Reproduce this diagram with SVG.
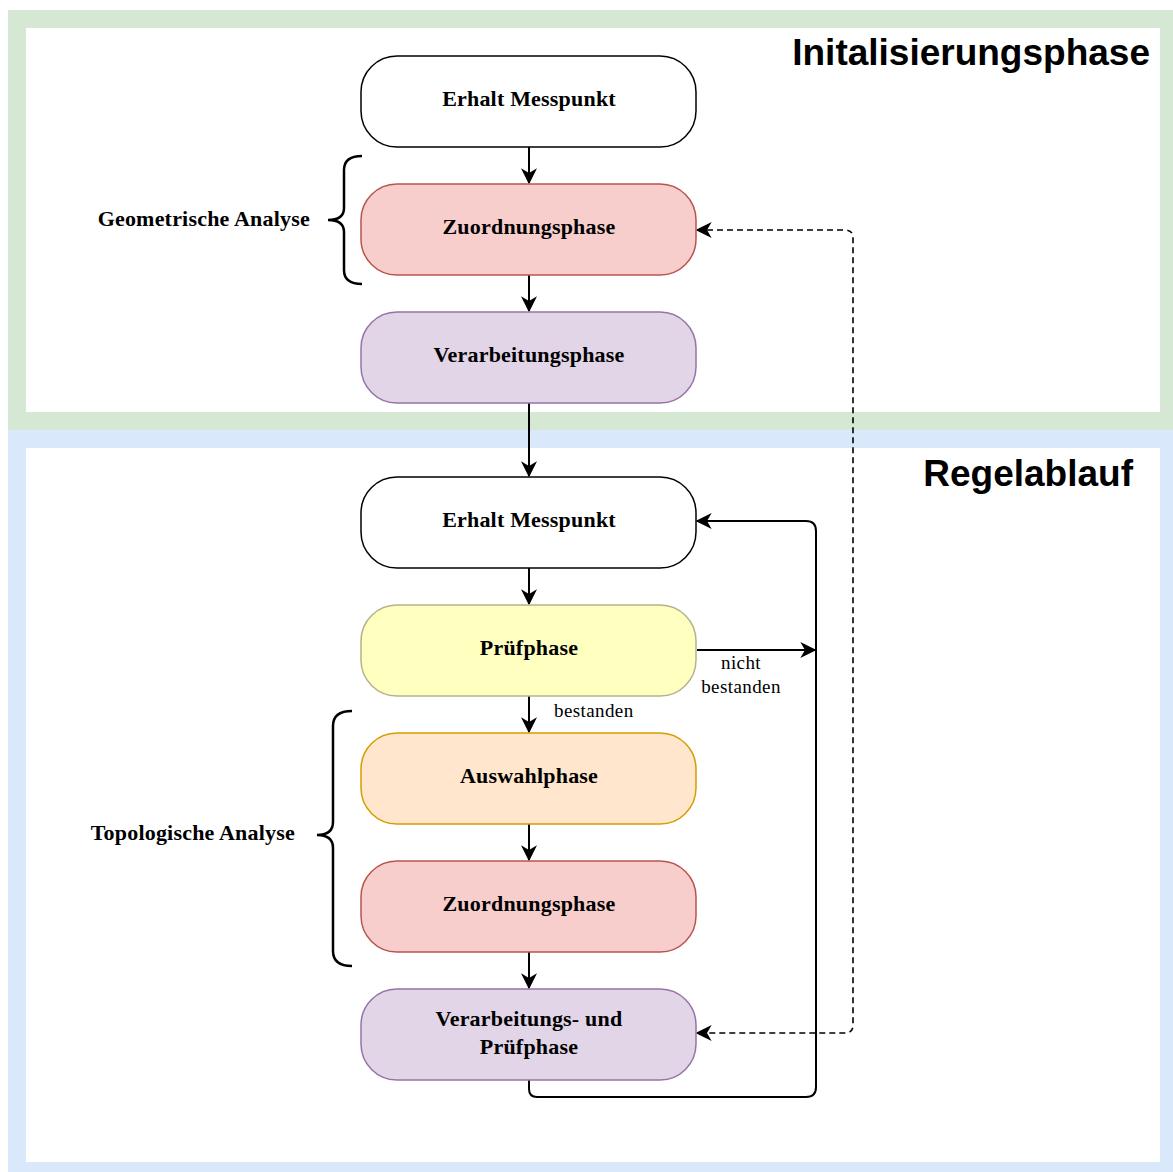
<svg xmlns="http://www.w3.org/2000/svg" width="1173" height="1172" viewBox="0 0 1173 1172">
<style>
.node{stroke-width:1.5}
.lbl{font-family:"Liberation Serif","Times New Roman",serif;font-weight:bold;font-size:22px;letter-spacing:0.2px;fill:#000;text-anchor:middle}
.title{font-family:"Liberation Sans",Arial,sans-serif;font-weight:bold;font-size:37px;fill:#000;text-anchor:end}
.small{font-family:"Liberation Serif","Times New Roman",serif;font-size:19px;letter-spacing:0.4px;fill:#000}
.edge{fill:none;stroke:#000;stroke-width:2}
.brace{fill:none;stroke:#000;stroke-width:2.5}
</style>
<defs>
<marker id="arr" viewBox="0 0 12 12" refX="11" refY="6" markerWidth="16" markerHeight="16" markerUnits="userSpaceOnUse" orient="auto-start-reverse">
<path d="M0,0 L12,6 L0,12 L3.5,6 z" fill="#000"/>
</marker>
</defs>
<rect width="1173" height="1172" fill="#fff"/>
<g id="frame-init">
<rect x="17" y="19" width="1152" height="402" fill="#fff" stroke="#d5e8d4" stroke-width="18"/>
<text class="title" x="1150" y="65">Initalisierungsphase</text>
</g>
<g id="frame-regel">
<rect x="17" y="439" width="1152" height="732" fill="#fff" stroke="#dae8fc" stroke-width="18"/>
<text class="title" x="1133" y="486">Regelablauf</text>
</g>
<g id="connectors">
<path class="edge" d="M529,147 L529,183" marker-end="url(#arr)"/>
<path class="edge" d="M529,275 L529,311" marker-end="url(#arr)"/>
<path class="edge" d="M529,403 L529,476" marker-end="url(#arr)"/>
<path class="edge" d="M529,568 L529,604" marker-end="url(#arr)"/>
<path class="edge" d="M529,696 L529,732" marker-end="url(#arr)"/>
<path class="edge" d="M529,824 L529,860" marker-end="url(#arr)"/>
<path class="edge" d="M529,952 L529,988" marker-end="url(#arr)"/>
<path class="edge" d="M697,650 L815,650" marker-end="url(#arr)"/>
<path class="edge" d="M529,1080 L529,1089 Q529,1097 537,1097 L806,1097 Q816,1097 816,1087 L816,531 Q816,521 806,521 L697,521" marker-end="url(#arr)"/>
<path class="edge" d="M697,230 L845,230 Q853,230 853,238 L853,1025 Q853,1033 845,1033 L697,1033" stroke-dasharray="6,4" marker-start="url(#arr)" marker-end="url(#arr)" style="stroke-width:1.6"/>
<text class="small" x="741" y="669" text-anchor="middle">nicht</text>
<text class="small" x="741" y="693" text-anchor="middle">bestanden</text>
<text class="small" x="554" y="717">bestanden</text>
</g>
<g id="n1">
<rect class="node" x="361" y="56" width="335" height="91" rx="36" fill="#fff" stroke="#000"/>
<text class="lbl" x="529" y="106">Erhalt Messpunkt</text>
</g>
<g id="n2">
<rect class="node" x="361" y="184" width="335" height="91" rx="36" fill="#f8cecc" stroke="#b85450"/>
<text class="lbl" x="529" y="234">Zuordnungsphase</text>
</g>
<g id="n3">
<rect class="node" x="361" y="312" width="335" height="91" rx="36" fill="#e1d5e7" stroke="#9673a6"/>
<text class="lbl" x="529" y="362">Verarbeitungsphase</text>
</g>
<g id="n4">
<rect class="node" x="361" y="477" width="335" height="91" rx="36" fill="#fff" stroke="#000"/>
<text class="lbl" x="529" y="527">Erhalt Messpunkt</text>
</g>
<g id="n5">
<rect class="node" x="361" y="605" width="335" height="91" rx="36" fill="#ffffc0" stroke="#b3b38a"/>
<text class="lbl" x="529" y="655">Prüfphase</text>
</g>
<g id="n6">
<rect class="node" x="361" y="733" width="335" height="91" rx="36" fill="#ffe6cc" stroke="#d79b00"/>
<text class="lbl" x="529" y="783">Auswahlphase</text>
</g>
<g id="n7">
<rect class="node" x="361" y="861" width="335" height="91" rx="36" fill="#f8cecc" stroke="#b85450"/>
<text class="lbl" x="529" y="911">Zuordnungsphase</text>
</g>
<g id="n8">
<rect class="node" x="361" y="989" width="335" height="91" rx="36" fill="#e1d5e7" stroke="#9673a6"/>
<text class="lbl" x="529" y="1026">Verarbeitungs- und</text>
<text class="lbl" x="529" y="1054">Prüfphase</text>
</g>
<g id="geo-brace">
<path class="brace" d="M362,156 Q344,156 344,170 L344,208 Q344,220 328,220 Q344,220 344,232 L344,270 Q344,284 362,284"/>
<text class="lbl" x="310" y="226" style="text-anchor:end">Geometrische Analyse</text>
</g>
<g id="topo-brace">
<path class="brace" d="M352,711 Q333,711 333,726 L333,822 Q333,835 317,835 Q333,835 333,848 L333,951 Q333,966 352,966"/>
<text class="lbl" x="295" y="840" style="text-anchor:end">Topologische Analyse</text>
</g>
</svg>
